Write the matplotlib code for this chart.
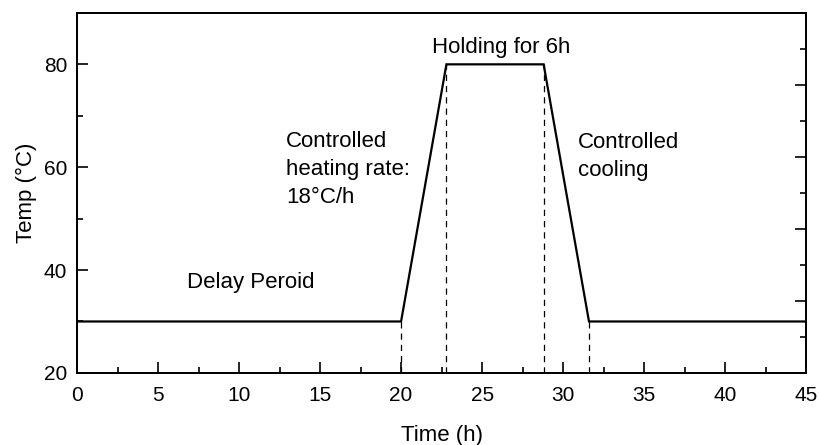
import matplotlib.pyplot as plt
from matplotlib.ticker import MultipleLocator

plt.rcParams['font.family'] = ['Liberation Sans', 'DejaVu Sans']

# Temperature program: time (h) vs. temperature (degC)
time_h = [0, 20, 22.8, 28.8, 31.6, 45]
temp_c = [30, 30, 80, 80, 30, 30]

# stage boundaries marked with dashed drop lines
mark_times = [20, 22.8, 28.8, 31.6]
mark_temps = [30, 80, 80, 30]

fig = plt.figure(figsize=(8.2, 4.45), dpi=100)
ax = fig.add_axes([0.094, 0.162, 0.889, 0.809])

ax.plot(time_h, temp_c, color='black', lw=1.6, solid_joinstyle='miter')
ax.vlines(mark_times, 20, mark_temps, colors='black', linestyles=(0, (5, 4)), lw=0.9)

ax.set_xlim(0, 45)
ax.set_ylim(20, 90)
ax.xaxis.set_major_locator(MultipleLocator(5))
ax.xaxis.set_minor_locator(MultipleLocator(2.5))
ax.yaxis.set_minor_locator(MultipleLocator(10))
ax.set_yticks([20, 40, 60, 80])
ax.tick_params(which='both', direction='in', labelsize=15, width=1.2, top=False, right=False)
ax.tick_params(which='major', length=8)
ax.tick_params(which='minor', length=4)
ax.tick_params(axis='x', which='major', pad=9.5)
ax.tick_params(axis='y', which='major', pad=7)
for s in ax.spines.values():
    s.set_linewidth(1.3)

ax.set_xlabel('Time (h)', fontsize=16, labelpad=14)
ax.set_ylabel('Temp (°C)', fontsize=16, labelpad=5)

# unlabeled right-hand tick scale
ax2 = ax.twinx()
ax2.set_ylim(0, 5)
ax2.yaxis.set_major_locator(MultipleLocator(1))
ax2.yaxis.set_minor_locator(MultipleLocator(0.5))
ax2.tick_params(which='both', direction='in', labelright=False, width=1.2)
ax2.tick_params(which='major', length=8)
ax2.tick_params(which='minor', length=4)
for s in ax2.spines.values():
    s.set_linewidth(1.3)

kw = dict(fontsize=16, color='black', linespacing=1.45)
ax.text(6.8, 37.6, 'Delay Peroid', va='center', ha='left', **kw)
ax.text(12.9, 59.6, 'Controlled\nheating rate:\n18°C/h', va='center', ha='left', **kw)
ax.text(21.9, 83.3, 'Holding for 6h', va='center', ha='left', **kw)
ax.text(30.9, 62.1, 'Controlled\ncooling', va='center', ha='left', **kw)

fig.savefig('out.png', dpi=100)
